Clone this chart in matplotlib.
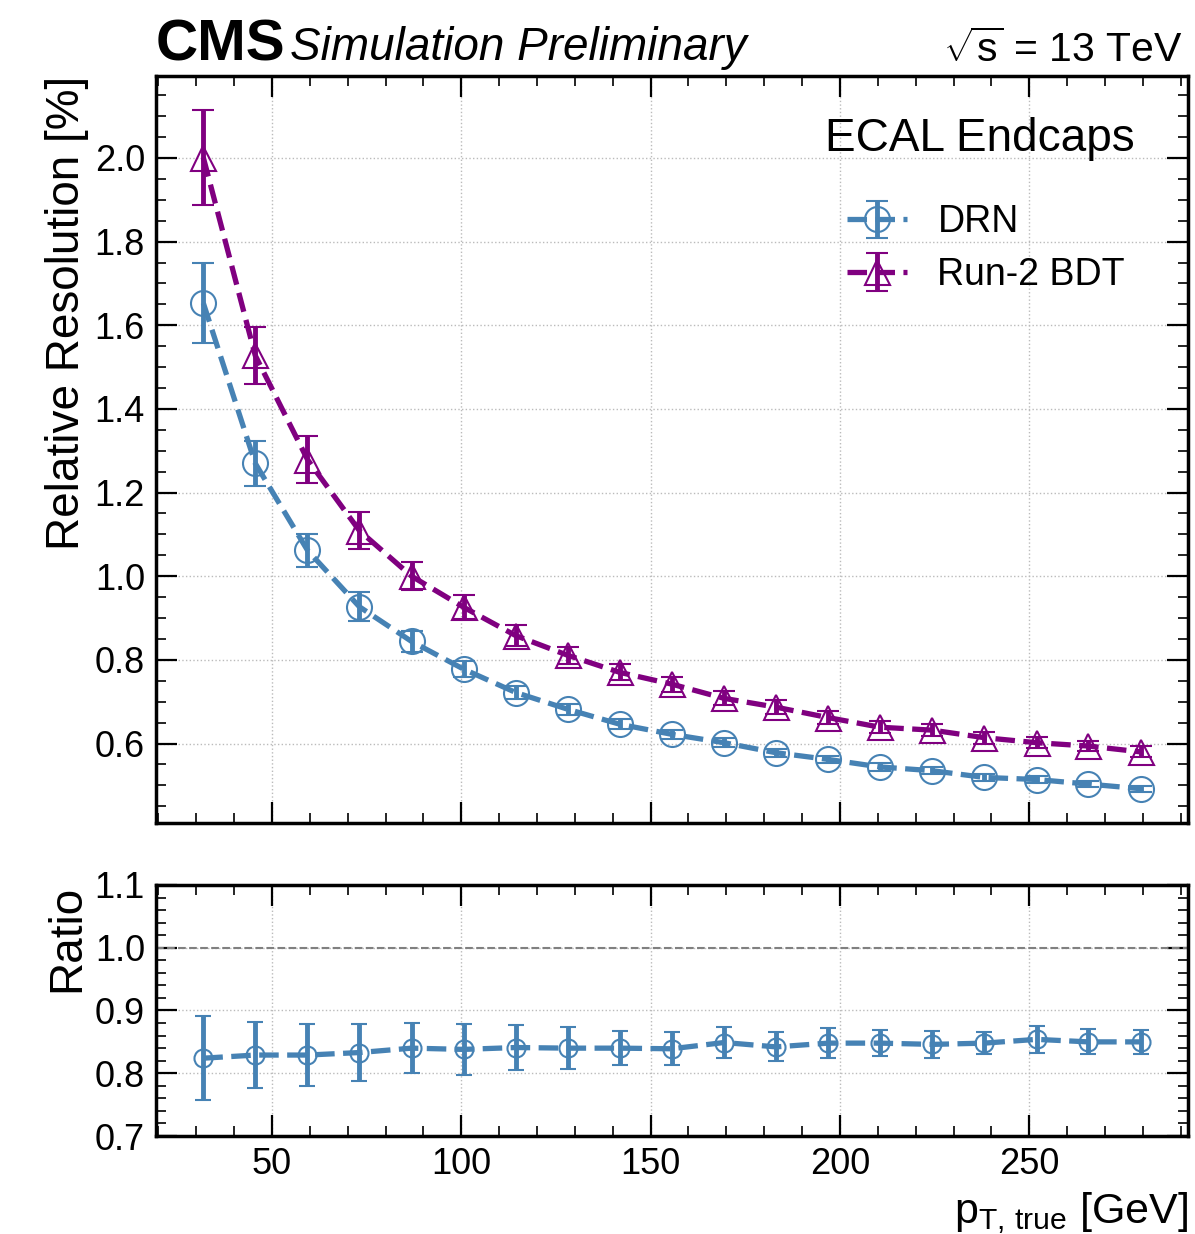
import numpy as np
import matplotlib
matplotlib.use("Agg")
import matplotlib.pyplot as plt
from matplotlib.ticker import MultipleLocator

plt.rcParams["font.family"] = ["Liberation Sans", "DejaVu Sans"]
plt.rcParams["mathtext.fontset"] = "custom"
plt.rcParams["mathtext.rm"] = "Liberation Sans"
plt.rcParams["mathtext.it"] = "Liberation Sans:italic"
plt.rcParams["mathtext.bf"] = "Liberation Sans:bold"

# bin centres [GeV]
pt = [31.9, 45.6, 59.4, 73.1, 86.9, 100.6, 114.4, 128.1, 141.9, 155.6,
      169.4, 183.1, 196.9, 210.6, 224.4, 238.1, 251.9, 265.6, 279.4]

# relative resolution [%]
drn = [1.653, 1.270, 1.062, 0.927, 0.844, 0.778, 0.722, 0.682, 0.646, 0.622,
       0.602, 0.578, 0.562, 0.544, 0.535, 0.519, 0.514, 0.503, 0.492]
drn_err = [0.095, 0.054, 0.040, 0.035, 0.025, 0.020, 0.016, 0.013, 0.012, 0.011,
           0.011, 0.010, 0.009, 0.009, 0.008, 0.008, 0.008, 0.007, 0.007]

bdt = [2.001, 1.528, 1.279, 1.109, 1.000, 0.926, 0.858, 0.811, 0.770, 0.742,
       0.708, 0.687, 0.662, 0.639, 0.632, 0.614, 0.602, 0.594, 0.580]
bdt_err = [0.114, 0.068, 0.057, 0.045, 0.033, 0.028, 0.025, 0.020, 0.019, 0.018,
           0.017, 0.016, 0.015, 0.015, 0.014, 0.014, 0.013, 0.013, 0.013]

# DRN / BDT
ratio = [0.824, 0.829, 0.829, 0.833, 0.840, 0.838, 0.841, 0.840, 0.840, 0.839,
         0.849, 0.842, 0.848, 0.848, 0.846, 0.848, 0.854, 0.850, 0.850]
ratio_err = [0.067, 0.052, 0.050, 0.046, 0.040, 0.040, 0.036, 0.033, 0.027, 0.026,
             0.025, 0.023, 0.024, 0.021, 0.022, 0.018, 0.021, 0.020, 0.019]

blue = "#4682B4"
purple = "#800080"

fig = plt.figure(figsize=(11.95, 12.34), dpi=100)
W, H = 1195, 1234
ax = fig.add_axes([156 / W, 1 - 823 / H, (1188 - 156) / W, (823 - 76) / H])
rax = fig.add_axes([156 / W, 1 - 1136 / H, (1188 - 156) / W, (1136 - 885) / H])


def style(a):
    for s in a.spines.values():
        s.set_linewidth(2.5)
    a.tick_params(which="both", direction="in", top=True, right=True, labelsize=26)
    a.tick_params(which="major", length=15, width=1.6, pad=8)
    a.tick_params(which="minor", length=7.5, width=1.2)
    a.grid(True, which="major", ls=":", color="#bbbbbb", lw=1)
    a.xaxis.set_major_locator(MultipleLocator(50))
    a.xaxis.set_minor_locator(MultipleLocator(10))
    a.set_xlim(19.4, 291.9)


style(ax)
style(rax)

eb = dict(ls="--", lw=3.8, mfc="none", mew=1.5, ms=18, elinewidth=3.5,
          capsize=8, capthick=2)
ax.errorbar(pt, drn, yerr=drn_err, fmt="o", color=blue, label="DRN", **eb)
ax.errorbar(pt, bdt, yerr=bdt_err, fmt="^", color=purple, label="Run-2 BDT", **eb)

ax.set_ylim(0.41, 2.196)
ax.yaxis.set_major_locator(MultipleLocator(0.2))
ax.yaxis.set_minor_locator(MultipleLocator(0.05))
ax.tick_params(axis="x", labelbottom=False)
ax.set_ylabel("Relative Resolution [%]", fontsize=33, loc="top", labelpad=4)

ax.legend(loc="upper left", bbox_to_anchor=(0.67, 0.828), frameon=False,
          fontsize=27, borderpad=0, borderaxespad=0, labelspacing=0.45,
          handletextpad=0.8, handlelength=1.6)

ax.text(0.948, 0.945, "ECAL Endcaps", transform=ax.transAxes, fontsize=33,
        ha="right", va="top")

ax.text(0.0, 1.005, "CMS", transform=ax.transAxes, fontsize=42,
        fontweight="bold", ha="left", va="bottom")
ax.text(0.13, 1.008, "Simulation Preliminary", transform=ax.transAxes,
        fontsize=33, style="italic", ha="left", va="bottom")
ax.text(0.995, 1.008, r"$\sqrt{\mathrm{s}}$ = 13 TeV", transform=ax.transAxes,
        fontsize=29.5, ha="right", va="bottom")

rax.errorbar(pt, ratio, yerr=ratio_err, fmt="o", color=blue, ls="--", lw=3.8,
             mfc="none", mew=1.5, ms=13, elinewidth=3.5, capsize=6, capthick=2)
rax.axhline(1.0, color="gray", ls="--", lw=1.5)
rax.set_ylim(0.7, 1.1)
rax.yaxis.set_major_locator(MultipleLocator(0.1))
rax.yaxis.set_minor_locator(MultipleLocator(0.02))
rax.set_ylabel("Ratio", fontsize=33, loc="top")
rax.set_xlabel(r"$\mathrm{p}_{\mathrm{T,\,true}}$ [GeV]", fontsize=31, loc="right",
               labelpad=6)

fig.align_ylabels([ax, rax])
fig.savefig("out.png", dpi=100)
